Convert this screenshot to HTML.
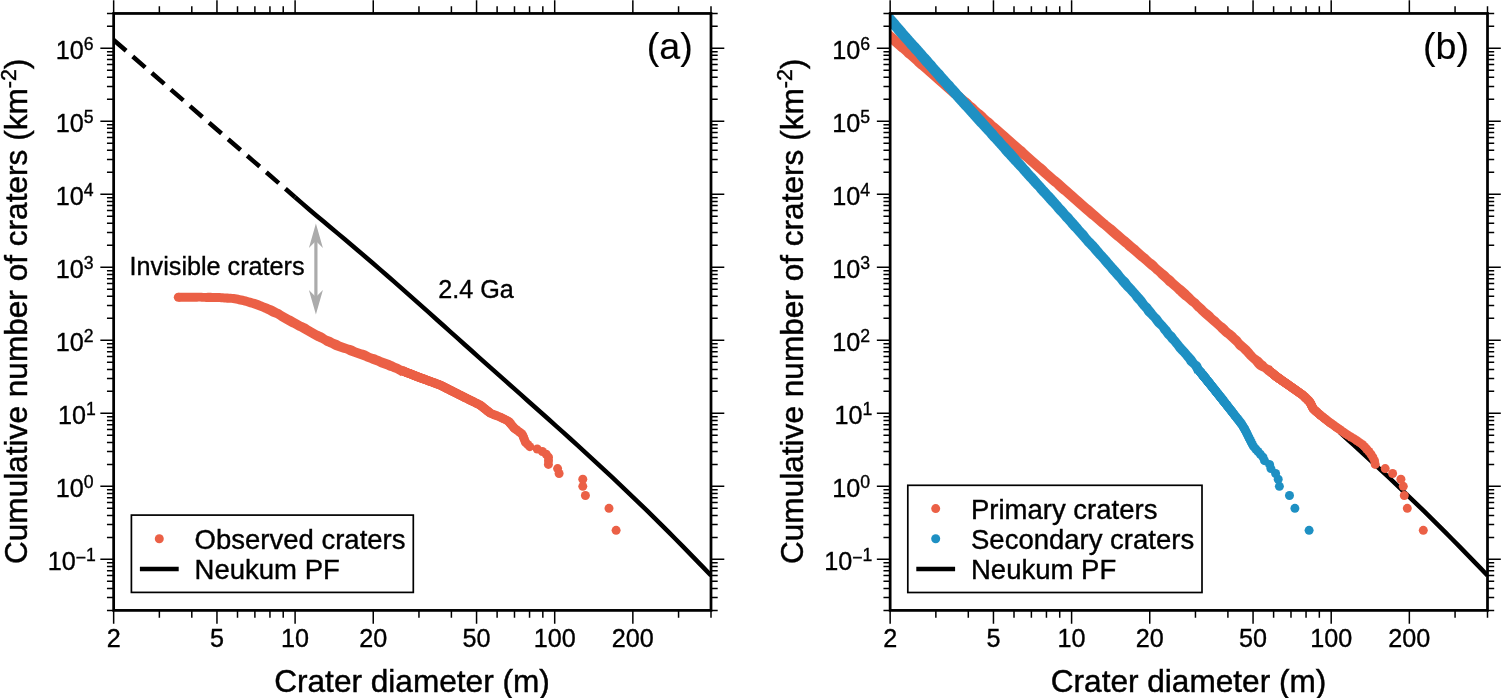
<!DOCTYPE html>
<html lang="en"><head><meta charset="utf-8"><title>Crater size-frequency distributions</title>
<style>html,body{margin:0;padding:0;background:#fff}body{width:1501px;height:698px;overflow:hidden}svg{display:block}</style></head>
<body>
<svg width="1501" height="698" viewBox="0 0 1501 698" font-family="Liberation Sans, Arial, Helvetica, sans-serif" fill="#000">
<rect width="1501" height="698" fill="#fff"/>
<defs><clipPath id="ca"><rect x="113.65" y="13.45" width="597.35" height="596.95"/></clipPath><clipPath id="cb"><rect x="890.15" y="13.45" width="597.35" height="596.95"/></clipPath></defs>
<g clip-path="url(#ca)">
<path d="M113.65 40 L295.1 197.24" stroke="#000" stroke-width="4.5" fill="none" stroke-dasharray="16.5 8.75"/>
<path d="M295.1 197.24 L302.15 203.42 L309.2 209.47 L316.25 215.43 L323.3 221.34 L330.35 227.23 L337.4 233.12 L344.45 239.03 L351.5 244.96 L358.55 250.93 L365.59 256.94 L372.64 262.99 L379.69 269.09 L386.74 275.22 L393.79 281.39 L400.84 287.6 L407.89 293.83 L414.94 300.09 L421.99 306.37 L429.04 312.67 L436.09 318.97 L443.13 325.28 L450.18 331.59 L457.23 337.9 L464.28 344.21 L471.33 350.51 L478.38 356.81 L485.43 363.09 L492.48 369.37 L499.53 375.65 L506.58 381.92 L513.63 388.18 L520.67 394.44 L527.72 400.71 L534.77 406.98 L541.82 413.26 L548.87 419.55 L555.92 425.86 L562.97 432.19 L570.02 438.54 L577.07 444.92 L584.12 451.34 L591.17 457.8 L598.21 464.3 L605.26 470.84 L612.31 477.43 L619.36 484.07 L626.41 490.77 L633.46 497.52 L640.51 504.33 L647.56 511.2 L654.61 518.13 L661.66 525.12 L668.71 532.16 L675.75 539.26 L682.8 546.41 L689.85 553.61 L696.9 560.87 L703.95 568.16 L711 575.5" stroke="#000" stroke-width="4.5" fill="none" stroke-linejoin="round"/>
<path d="M178.29 301.62 L179.19 301.7 L180.4 301.76 L181.92 301.74 L183.43 301.68 L184.95 301.68 L186.46 301.72 L187.97 301.72 L189.49 301.72 L191 301.77 L192.51 301.85 L194.03 301.84 L195.54 301.77 L197.05 301.67 L198.55 301.61 L200.05 301.6 L201.55 301.66 L203.04 301.78 L204.55 301.87 L206.06 301.89 L207.57 301.9 L209.09 301.91 L210.6 301.92 L212.12 301.92 L213.63 301.93 L215.14 301.99 L216.65 302.03 L218.14 302.04 L219.64 302.08 L221.13 302.2 L222.62 302.36 L224.12 302.5 L225.61 302.59 L227.06 302.64 L228.46 302.69 L229.87 302.74 L231.28 302.82 L232.7 302.95 L234.16 303.16 L235.62 303.45 L237.03 303.81 L238.41 304.15 L239.79 304.47 L241.17 304.76 L242.57 305.09 L244.01 305.44 L245.46 305.81 L246.87 306.24 L248.25 306.7 L249.63 307.16 L251.02 307.6 L252.42 308.06 L253.83 308.59 L255.22 309.11 L256.58 309.6 L257.92 310.08 L259.26 310.56 L260.6 311.06 L261.93 311.61 L263.3 312.22 L264.66 312.85 L265.99 313.48 L267.31 314.1 L268.6 314.76 L269.88 315.44 L271.17 316.14 L272.53 316.75 L273.96 317.28 L275.34 317.87 L276.64 318.59 L277.9 319.37 L279.17 320.13 L280.44 320.88 L281.73 321.64 L283.02 322.41 L284.33 323.18 L285.67 323.92 L287.01 324.69 L288.32 325.51 L289.63 326.33 L291.01 327 L292.42 327.6 L293.77 328.3 L295.04 329.1 L296.34 329.84 L297.7 330.47 L299.07 331.08 L300.38 331.79 L301.67 332.57 L302.99 333.31 L304.34 333.99 L305.68 334.7 L306.99 335.46 L308.3 336.22 L309.61 336.98 L310.91 337.77 L312.22 338.52 L313.56 339.23 L314.91 339.93 L316.26 340.65 L317.62 341.36 L319.02 341.99 L320.44 342.6 L321.8 343.29 L323.09 344.08 L324.39 344.9 L325.77 345.63 L327.23 346.28 L328.7 346.89 L330.15 347.58 L331.53 348.37 L332.9 349.11 L334.31 349.68 L335.78 350.15 L337.26 350.63 L338.72 351.18 L340.18 351.75 L341.64 352.26 L343.13 352.67 L344.6 353.06 L346.01 353.61 L347.37 354.3 L348.74 354.97 L350.15 355.51 L351.58 356.02 L353.01 356.51 L354.43 357.04 L355.83 357.57 L357.22 358.07 L358.62 358.56 L360.02 359.03 L361.43 359.5 L362.83 360.03 L364.22 360.6 L365.61 361.21 L367.02 361.77 L368.45 362.29 L369.85 362.87 L371.23 363.49 L372.64 364.06 L374.06 364.57 L375.5 365.04 L376.91 365.61 L378.26 366.32 L379.64 366.96 L381.07 367.47 L382.52 367.91 L383.95 368.42 L385.32 369.03 L386.69 369.62 L388.06 370.16 L389.46 370.64 L390.86 371.12 L392.25 371.66 L393.66 372.18 L395.1 372.71 L396.49 373.38 L397.83 374.21 L399.15 375.06 L400.24 375.7 L401.11 376.05 L404.73 366.79 L403.89 366.51 L402.8 366.07 L401.48 365.38 L400.2 364.65 L398.86 364 L397.46 363.47 L396.05 362.91 L394.65 362.26 L393.26 361.56 L391.86 360.89 L390.43 360.3 L388.99 359.75 L387.56 359.22 L386.13 358.72 L384.71 358.21 L383.29 357.68 L381.87 357.16 L380.46 356.62 L379.08 356.01 L377.7 355.38 L376.3 354.81 L374.86 354.35 L373.39 353.96 L371.93 353.53 L370.53 352.96 L369.2 352.24 L367.86 351.5 L366.48 350.87 L365.04 350.34 L363.57 349.87 L362.1 349.38 L360.63 348.89 L359.15 348.45 L357.68 348.01 L356.27 347.47 L354.92 346.76 L353.57 346.01 L352.17 345.44 L350.69 345.08 L349.2 344.77 L347.75 344.32 L346.36 343.73 L344.98 343.17 L343.59 342.7 L342.18 342.28 L340.81 341.75 L339.5 341.04 L338.18 340.34 L336.79 339.77 L335.4 339.26 L334.09 338.66 L332.83 337.99 L331.55 337.37 L330.22 336.84 L328.83 336.34 L327.44 335.76 L326.14 334.99 L324.91 334.1 L323.68 333.24 L322.38 332.51 L321.02 331.88 L319.63 331.31 L318.24 330.71 L316.89 330.03 L315.55 329.32 L314.24 328.58 L312.94 327.8 L311.65 327.01 L310.36 326.22 L309.07 325.42 L307.79 324.61 L306.47 323.87 L305.11 323.18 L303.72 322.52 L302.33 321.88 L300.96 321.18 L299.63 320.42 L298.32 319.66 L296.96 318.98 L295.6 318.34 L294.32 317.59 L293.07 316.78 L291.78 316.04 L290.44 315.39 L289.08 314.76 L287.73 314.08 L286.4 313.36 L285.07 312.6 L283.75 311.79 L282.45 310.93 L281.14 310.08 L279.79 309.33 L278.41 308.68 L277.04 308.02 L275.7 307.27 L274.33 306.51 L272.9 305.85 L271.43 305.28 L269.96 304.7 L268.53 304.09 L267.12 303.51 L265.69 302.95 L264.22 302.38 L262.74 301.78 L261.26 301.17 L259.78 300.58 L258.29 300.04 L256.83 299.56 L255.37 299.11 L253.88 298.68 L252.36 298.27 L250.85 297.84 L249.34 297.42 L247.84 297.01 L246.37 296.6 L244.88 296.19 L243.35 295.78 L241.78 295.44 L240.2 295.13 L238.62 294.84 L237.06 294.56 L235.55 294.29 L234.01 294.06 L232.42 293.91 L230.8 293.8 L229.19 293.68 L227.58 293.56 L226.01 293.5 L224.48 293.46 L222.96 293.37 L221.43 293.25 L219.9 293.11 L218.37 293.02 L216.84 292.96 L215.32 292.92 L213.81 292.9 L212.29 292.89 L210.78 292.86 L209.27 292.82 L207.76 292.82 L206.24 292.88 L204.73 292.93 L203.21 292.91 L201.68 292.85 L200.15 292.78 L198.63 292.68 L197.1 292.64 L195.58 292.67 L194.07 292.71 L192.55 292.71 L191.04 292.7 L189.53 292.7 L188.01 292.75 L186.5 292.79 L184.99 292.79 L183.47 292.73 L181.96 292.65 L180.45 292.65 L179.24 292.69 L178.33 292.73Z" fill="#EB6046"/>
<circle cx="178.31" cy="297.2" r="4.5" fill="#EB6046"/><circle cx="403.04" cy="371.11" r="4.9" fill="#EB6046"/>
<g fill="#EB6046">
<circle cx="616.1" cy="530.31" r="4.5"/>
<circle cx="609" cy="508.33" r="4.5"/>
<circle cx="585.4" cy="495.48" r="4.5"/>
<circle cx="582.8" cy="486.36" r="4.5"/>
<circle cx="582.8" cy="479.28" r="4.5"/>
<circle cx="559.1" cy="473.5" r="4.5"/>
<circle cx="557.6" cy="468.61" r="4.5"/>
<circle cx="548.4" cy="464.38" r="4.5"/>
<circle cx="548.5" cy="460.64" r="4.5"/>
<circle cx="548.5" cy="457.3" r="4.5"/>
<circle cx="546.23" cy="454.28" r="4.5"/>
<circle cx="542.38" cy="451.52" r="4.5"/>
<circle cx="537.23" cy="448.98" r="4.5"/>
<circle cx="529.82" cy="446.63" r="4.5"/>
<circle cx="527.59" cy="444.44" r="4.5"/>
<circle cx="525.5" cy="442.4" r="4.5"/>
<circle cx="524.72" cy="440.48" r="4.5"/>
<circle cx="524.04" cy="438.66" r="4.5"/>
<circle cx="523.39" cy="436.95" r="4.5"/>
<circle cx="522.78" cy="435.32" r="4.5"/>
<circle cx="521.7" cy="433.78" r="4.5"/>
<circle cx="519.73" cy="432.3" r="4.5"/>
<circle cx="517.85" cy="430.89" r="4.5"/>
<circle cx="516.06" cy="429.54" r="4.5"/>
<circle cx="514.36" cy="428.25" r="4.5"/>
<circle cx="513.3" cy="427" r="4.5"/>
<circle cx="512.29" cy="425.81" r="4.5"/>
<circle cx="511.32" cy="424.65" r="4.5"/>
<circle cx="510.38" cy="423.54" r="4.5"/>
<circle cx="509.47" cy="422.47" r="4.5"/>
<circle cx="508.59" cy="421.43" r="4.5"/>
<circle cx="506.84" cy="420.42" r="4.5"/>
<circle cx="504.89" cy="419.44" r="4.5"/>
<circle cx="502.99" cy="418.5" r="4.5"/>
<circle cx="501.16" cy="417.58" r="4.5"/>
<circle cx="499.1" cy="416.68" r="4.5"/>
<circle cx="496.9" cy="415.82" r="4.5"/>
<circle cx="494.77" cy="414.97" r="4.5"/>
<circle cx="492.69" cy="414.15" r="4.5"/>
<circle cx="490.66" cy="413.34" r="4.5"/>
<circle cx="489.5" cy="412.56" r="4.5"/>
<circle cx="488.55" cy="411.8" r="4.5"/>
<circle cx="487.61" cy="411.05" r="4.5"/>
<circle cx="486.7" cy="410.32" r="4.5"/>
<circle cx="485.81" cy="409.61" r="4.5"/>
<circle cx="484.94" cy="408.91" r="4.5"/>
<circle cx="484.09" cy="408.23" r="4.5"/>
<circle cx="483.25" cy="407.56" r="4.5"/>
<circle cx="482.44" cy="406.91" r="4.5"/>
<circle cx="481.64" cy="406.27" r="4.5"/>
<circle cx="480.85" cy="405.64" r="4.5"/>
<circle cx="479.95" cy="405.02" r="4.5"/>
<circle cx="478.73" cy="404.42" r="4.5"/>
<circle cx="477.54" cy="403.83" r="4.5"/>
<circle cx="476.37" cy="403.25" r="4.5"/>
<circle cx="475.22" cy="402.67" r="4.5"/>
<circle cx="474.1" cy="402.11" r="4.5"/>
<circle cx="472.99" cy="401.56" r="4.5"/>
<circle cx="471.9" cy="401.02" r="4.5"/>
<circle cx="470.83" cy="400.49" r="4.5"/>
<circle cx="469.77" cy="399.96" r="4.5"/>
<circle cx="468.74" cy="399.45" r="4.5"/>
<circle cx="467.72" cy="398.94" r="4.5"/>
<circle cx="466.71" cy="398.44" r="4.5"/>
<circle cx="465.73" cy="397.95" r="4.5"/>
<circle cx="464.75" cy="397.46" r="4.5"/>
<circle cx="463.79" cy="396.99" r="4.5"/>
<circle cx="462.85" cy="396.52" r="4.5"/>
<circle cx="461.92" cy="396.06" r="4.5"/>
<circle cx="461" cy="395.6" r="4.5"/>
<circle cx="460.1" cy="395.15" r="4.5"/>
<circle cx="459.22" cy="394.71" r="4.5"/>
<circle cx="458.36" cy="394.27" r="4.5"/>
<circle cx="457.5" cy="393.84" r="4.5"/>
<circle cx="456.66" cy="393.41" r="4.5"/>
<circle cx="455.83" cy="392.99" r="4.5"/>
<circle cx="455.01" cy="392.58" r="4.5"/>
<circle cx="454.2" cy="392.17" r="4.5"/>
<circle cx="453.4" cy="391.76" r="4.5"/>
<circle cx="452.61" cy="391.37" r="4.5"/>
<circle cx="451.83" cy="390.97" r="4.5"/>
<circle cx="451.06" cy="390.58" r="4.5"/>
<circle cx="450.29" cy="390.2" r="4.5"/>
<circle cx="449.54" cy="389.82" r="4.5"/>
<circle cx="448.8" cy="389.44" r="4.5"/>
<circle cx="448.07" cy="389.07" r="4.5"/>
<circle cx="447.34" cy="388.71" r="4.5"/>
<circle cx="446.62" cy="388.34" r="4.5"/>
<circle cx="445.91" cy="387.98" r="4.5"/>
<circle cx="445.21" cy="387.63" r="4.5"/>
<circle cx="444.52" cy="387.28" r="4.5"/>
<circle cx="443.83" cy="386.93" r="4.5"/>
<circle cx="443.15" cy="386.59" r="4.5"/>
<circle cx="442.48" cy="386.25" r="4.5"/>
<circle cx="441.82" cy="385.92" r="4.5"/>
<circle cx="441.16" cy="385.58" r="4.5"/>
<circle cx="440.51" cy="385.26" r="4.5"/>
<circle cx="439.74" cy="384.93" r="4.5"/>
<circle cx="438.87" cy="384.61" r="4.5"/>
<circle cx="438" cy="384.29" r="4.5"/>
<circle cx="437.15" cy="383.97" r="4.5"/>
<circle cx="436.3" cy="383.66" r="4.5"/>
<circle cx="435.46" cy="383.35" r="4.5"/>
<circle cx="434.63" cy="383.05" r="4.5"/>
<circle cx="433.81" cy="382.74" r="4.5"/>
<circle cx="433" cy="382.44" r="4.5"/>
<circle cx="432.19" cy="382.14" r="4.5"/>
<circle cx="431.39" cy="381.85" r="4.5"/>
<circle cx="430.6" cy="381.56" r="4.5"/>
<circle cx="429.81" cy="381.27" r="4.5"/>
<circle cx="429.04" cy="380.98" r="4.5"/>
<circle cx="428.27" cy="380.7" r="4.5"/>
<circle cx="427.5" cy="380.41" r="4.5"/>
<circle cx="426.74" cy="380.13" r="4.5"/>
<circle cx="425.99" cy="379.86" r="4.5"/>
<circle cx="425.25" cy="379.58" r="4.5"/>
<circle cx="424.51" cy="379.31" r="4.5"/>
<circle cx="423.78" cy="379.04" r="4.5"/>
<circle cx="423.06" cy="378.77" r="4.5"/>
<circle cx="422.34" cy="378.51" r="4.5"/>
<circle cx="421.62" cy="378.25" r="4.5"/>
<circle cx="420.92" cy="377.98" r="4.5"/>
<circle cx="420.21" cy="377.73" r="4.5"/>
<circle cx="419.54" cy="377.47" r="4.5"/>
<circle cx="418.88" cy="377.21" r="4.5"/>
<circle cx="418.23" cy="376.96" r="4.5"/>
<circle cx="417.58" cy="376.71" r="4.5"/>
<circle cx="416.93" cy="376.46" r="4.5"/>
<circle cx="416.29" cy="376.22" r="4.5"/>
<circle cx="415.66" cy="375.97" r="4.5"/>
<circle cx="415.03" cy="375.73" r="4.5"/>
<circle cx="414.4" cy="375.49" r="4.5"/>
<circle cx="413.78" cy="375.25" r="4.5"/>
<circle cx="413.17" cy="375.01" r="4.5"/>
<circle cx="412.55" cy="374.77" r="4.5"/>
<circle cx="411.95" cy="374.54" r="4.5"/>
<circle cx="411.35" cy="374.31" r="4.5"/>
<circle cx="410.75" cy="374.08" r="4.5"/>
<circle cx="410.15" cy="373.85" r="4.5"/>
<circle cx="409.56" cy="373.62" r="4.5"/>
<circle cx="408.98" cy="373.39" r="4.5"/>
<circle cx="408.4" cy="373.17" r="4.5"/>
<circle cx="407.82" cy="372.95" r="4.5"/>
<circle cx="407.25" cy="372.73" r="4.5"/>
<circle cx="406.68" cy="372.51" r="4.5"/>
<circle cx="406.11" cy="372.29" r="4.5"/>
<circle cx="405.55" cy="372.07" r="4.5"/>
<circle cx="404.99" cy="371.86" r="4.5"/>
<circle cx="404.44" cy="371.64" r="4.5"/>
</g>
</g>
<g clip-path="url(#cb)">
<path d="M1339.47 432.19 L1346.52 438.54 L1353.57 444.92 L1360.62 451.34 L1367.67 457.8 L1374.71 464.3 L1381.76 470.84 L1388.81 477.43 L1395.86 484.07 L1402.91 490.77 L1409.96 497.52 L1417.01 504.33 L1424.06 511.2 L1431.11 518.13 L1438.16 525.12 L1445.21 532.16 L1452.25 539.26 L1459.3 546.41 L1466.35 553.61 L1473.4 560.87 L1480.45 568.16 L1487.5 575.5" stroke="#000" stroke-width="4.5" fill="none" stroke-linejoin="round"/>
<path d="M849.12 1.24 L849.24 2.54 L849.59 4.23 L850.15 6.14 L851.07 8.16 L852.33 9.98 L853.63 11.38 L854.84 12.57 L856.07 13.74 L857.28 14.81 L858.43 15.8 L859.57 16.78 L860.72 17.76 L861.86 18.75 L862.99 19.75 L864.11 20.75 L865.23 21.76 L866.36 22.76 L867.49 23.75 L868.65 24.72 L869.81 25.68 L870.97 26.65 L872.1 27.64 L873.22 28.65 L874.33 29.67 L875.45 30.68 L876.6 31.66 L877.76 32.62 L878.92 33.58 L880.05 34.58 L881.19 35.57 L882.35 36.53 L883.53 37.47 L884.67 38.45 L885.78 39.47 L886.87 40.5 L887.97 41.53 L889.08 42.53 L890.23 43.5 L891.39 44.46 L892.54 45.43 L893.68 46.42 L894.82 47.4 L895.96 48.39 L897.08 49.4 L898.18 50.42 L899.33 51.4 L900.51 52.34 L901.68 53.3 L902.81 54.29 L903.88 55.35 L904.96 56.41 L906.09 57.41 L907.27 58.35 L908.45 59.29 L909.58 60.28 L910.69 61.31 L911.81 62.32 L912.94 63.32 L914.04 64.35 L915.13 65.39 L916.25 66.39 L917.39 67.38 L918.52 68.38 L919.65 69.37 L920.81 70.34 L921.99 71.28 L923.15 72.24 L924.29 73.23 L925.4 74.25 L926.51 75.27 L927.65 76.26 L928.8 77.23 L929.94 78.21 L931.06 79.22 L932.18 80.23 L933.32 81.23 L934.44 82.23 L935.55 83.24 L936.66 84.27 L937.81 85.25 L938.98 86.2 L940.13 87.18 L941.23 88.2 L942.33 89.23 L943.45 90.24 L944.58 91.24 L945.72 92.23 L946.86 93.21 L948.01 94.18 L949.15 95.17 L950.28 96.17 L951.43 97.14 L952.61 98.08 L953.78 99.03 L954.88 100.07 L955.94 101.15 L957.04 102.17 L958.19 103.15 L959.32 104.14 L960.43 105.17 L961.58 106.15 L962.78 107.07 L963.97 107.99 L965.12 108.96 L966.24 109.97 L967.38 110.96 L968.53 111.94 L969.64 112.95 L970.73 113.99 L971.84 115.02 L972.98 116 L974.11 117 L975.2 118.04 L976.26 119.12 L977.33 120.19 L978.45 121.2 L979.6 122.17 L980.74 123.15 L981.86 124.17 L982.97 125.18 L984.12 126.16 L985.32 127.08 L986.53 127.99 L987.69 128.95 L988.8 129.97 L989.92 130.98 L991.08 131.95 L992.23 132.91 L993.34 133.94 L994.43 134.98 L995.56 135.98 L996.71 136.96 L997.84 137.95 L998.93 139 L1000.01 140.04 L1001.15 141.03 L1002.34 141.96 L1003.53 142.89 L1004.68 143.87 L1005.78 144.9 L1006.88 145.92 L1008.01 146.93 L1009.15 147.91 L1010.29 148.89 L1011.43 149.88 L1012.56 150.88 L1013.7 151.87 L1014.85 152.84 L1015.99 153.83 L1017.1 154.84 L1018.19 155.88 L1019.29 156.92 L1020.42 157.92 L1021.57 158.9 L1022.75 159.84 L1023.93 160.78 L1025.07 161.76 L1026.18 162.79 L1027.27 163.82 L1028.4 164.82 L1029.55 165.8 L1030.7 166.77 L1031.85 167.74 L1032.98 168.74 L1034.09 169.76 L1035.22 170.76 L1036.37 171.73 L1037.53 172.7 L1038.64 173.72 L1039.7 174.79 L1040.79 175.84 L1041.92 176.83 L1043.1 177.78 L1044.25 178.75 L1045.38 179.75 L1046.5 180.76 L1047.62 181.77 L1048.73 182.79 L1049.87 183.78 L1051.04 184.72 L1052.24 185.64 L1053.42 186.59 L1054.54 187.59 L1055.63 188.64 L1056.7 189.7 L1057.81 190.72 L1058.94 191.72 L1060.07 192.72 L1061.23 193.69 L1062.42 194.61 L1063.6 195.55 L1064.72 196.55 L1065.82 197.59 L1066.95 198.58 L1068.09 199.55 L1069.2 200.57 L1070.32 201.58 L1071.46 202.56 L1072.63 203.51 L1073.77 204.5 L1074.88 205.54 L1075.97 206.58 L1077.09 207.61 L1078.24 208.6 L1079.41 209.55 L1080.56 210.54 L1081.68 211.57 L1082.8 212.59 L1083.96 213.56 L1085.15 214.49 L1086.32 215.45 L1087.44 216.47 L1088.56 217.48 L1089.73 218.44 L1090.92 219.37 L1092.09 220.32 L1093.26 221.28 L1094.43 222.24 L1095.59 223.21 L1096.71 224.22 L1097.82 225.24 L1098.97 226.21 L1100.14 227.17 L1101.32 228.1 L1102.5 229.04 L1103.67 230 L1104.8 231 L1105.9 232.03 L1107.01 233.05 L1108.12 234.07 L1109.24 235.08 L1110.36 236.09 L1111.5 237.08 L1112.66 238.04 L1113.83 238.99 L1115 239.93 L1116.18 240.86 L1117.35 241.81 L1118.5 242.78 L1119.64 243.78 L1120.78 244.75 L1121.96 245.69 L1123.13 246.64 L1124.27 247.62 L1125.36 248.66 L1126.46 249.69 L1127.6 250.67 L1128.77 251.62 L1129.92 252.59 L1131.08 253.55 L1132.26 254.48 L1133.44 255.42 L1134.57 256.41 L1135.68 257.42 L1136.81 258.41 L1137.96 259.39 L1139.08 260.39 L1140.22 261.37 L1141.4 262.31 L1142.59 263.22 L1143.74 264.2 L1144.83 265.23 L1145.92 266.27 L1147.03 267.28 L1148.18 268.26 L1149.35 269.2 L1150.55 270.12 L1151.7 271.09 L1152.8 272.12 L1153.91 273.13 L1155.08 274.08 L1156.22 275.06 L1157.29 276.12 L1158.34 277.21 L1159.41 278.26 L1160.54 279.26 L1161.68 280.24 L1162.83 281.22 L1163.92 282.25 L1164.94 283.37 L1165.99 284.46 L1167.14 285.43 L1168.36 286.32 L1169.5 287.3 L1170.61 288.32 L1171.8 289.24 L1173.02 290.14 L1174.12 291.17 L1175.12 292.31 L1176.18 293.38 L1177.31 294.37 L1178.42 295.39 L1179.52 296.42 L1180.64 297.43 L1181.75 298.45 L1182.89 299.43 L1184.1 300.34 L1185.34 301.21 L1186.5 302.17 L1187.6 303.2 L1188.68 304.25 L1189.83 305.22 L1191.08 306.09 L1192.27 307.02 L1193.29 308.13 L1194.23 309.34 L1195.29 310.41 L1196.46 311.36 L1197.58 312.37 L1198.66 313.42 L1199.75 314.47 L1200.84 315.51 L1201.91 316.57 L1203.02 317.59 L1204.18 318.55 L1205.36 319.49 L1206.56 320.41 L1207.72 321.38 L1208.82 322.43 L1209.9 323.5 L1211.05 324.5 L1212.26 325.44 L1213.42 326.42 L1214.56 327.41 L1215.69 328.41 L1216.78 329.46 L1217.81 330.56 L1218.86 331.65 L1220 332.64 L1221.1 333.67 L1222.12 334.8 L1223.2 335.84 L1224.43 336.73 L1225.68 337.56 L1226.81 338.48 L1227.88 339.47 L1228.98 340.42 L1230.07 341.38 L1231.12 342.42 L1232.19 343.47 L1233.28 344.51 L1234.34 345.59 L1235.29 346.77 L1236.18 348.01 L1237.23 349.09 L1238.47 349.99 L1239.73 350.85 L1240.86 351.85 L1241.94 352.9 L1243.02 353.95 L1244.06 355.05 L1245.04 356.19 L1246.01 357.36 L1247.08 358.41 L1248.18 359.44 L1249.25 360.5 L1250.33 361.55 L1251.46 362.55 L1252.59 363.55 L1253.58 364.72 L1254.54 366.03 L1255.66 367.29 L1256.91 368.43 L1258.25 369.44 L1259.68 370.31 L1261.14 370.98 L1262.53 371.61 L1263.76 372.41 L1264.88 373.39 L1265.75 374.19 L1266.42 374.77 L1272.31 366.8 L1271.7 366.06 L1270.56 365.54 L1269.02 365.03 L1267.67 364.27 L1266.62 363.14 L1265.68 361.98 L1264.62 361.16 L1263.53 360.39 L1262.59 359.45 L1261.7 358.45 L1260.7 357.47 L1259.44 356.63 L1258.15 355.79 L1256.91 354.9 L1255.75 353.93 L1254.73 352.81 L1253.75 351.65 L1252.76 350.51 L1251.76 349.37 L1250.77 348.23 L1249.75 347.11 L1248.66 346.08 L1247.54 345.06 L1246.41 344.06 L1245.27 343.07 L1244.14 342.07 L1243 341.08 L1241.96 339.99 L1241.06 338.76 L1240.14 337.54 L1239.05 336.5 L1237.84 335.57 L1236.72 334.52 L1235.68 333.35 L1234.55 332.27 L1233.34 331.28 L1232.11 330.31 L1230.88 329.4 L1229.71 328.45 L1228.62 327.41 L1227.6 326.28 L1226.56 325.18 L1225.44 324.18 L1224.23 323.26 L1222.97 322.42 L1221.77 321.5 L1220.65 320.49 L1219.57 319.44 L1218.52 318.37 L1217.45 317.34 L1216.27 316.42 L1215.05 315.55 L1213.96 314.52 L1213 313.34 L1211.94 312.26 L1210.78 311.29 L1209.59 310.36 L1208.41 309.43 L1207.25 308.46 L1206.14 307.43 L1205.08 306.35 L1204.01 305.3 L1202.88 304.29 L1201.73 303.32 L1200.64 302.28 L1199.6 301.17 L1198.54 300.1 L1197.41 299.1 L1196.24 298.14 L1195.09 297.17 L1193.96 296.17 L1192.88 295.12 L1191.85 294 L1190.81 292.91 L1189.71 291.88 L1188.58 290.87 L1187.46 289.87 L1186.32 288.87 L1185.2 287.86 L1184.08 286.85 L1182.94 285.87 L1181.76 284.92 L1180.58 283.97 L1179.46 282.96 L1178.32 281.97 L1177.15 281.02 L1176.01 280.03 L1174.94 278.96 L1173.89 277.86 L1172.79 276.83 L1171.63 275.86 L1170.47 274.9 L1169.34 273.9 L1168.25 272.86 L1167.14 271.82 L1165.98 270.86 L1164.81 269.91 L1163.67 268.91 L1162.53 267.93 L1161.33 267 L1160.12 266.09 L1158.99 265.09 L1157.97 263.96 L1156.98 262.81 L1155.93 261.71 L1154.79 260.72 L1153.55 259.85 L1152.3 258.99 L1151.12 258.03 L1150.04 256.97 L1148.99 255.88 L1147.89 254.85 L1146.72 253.89 L1145.51 252.97 L1144.32 252.03 L1143.19 251.04 L1142.08 250.01 L1140.98 248.97 L1139.89 247.92 L1138.79 246.88 L1137.68 245.86 L1136.52 244.9 L1135.29 244.01 L1134.07 243.11 L1132.93 242.12 L1131.83 241.09 L1130.7 240.08 L1129.55 239.1 L1128.43 238.09 L1127.3 237.1 L1126.12 236.15 L1124.94 235.2 L1123.81 234.21 L1122.7 233.18 L1121.6 232.14 L1120.44 231.18 L1119.22 230.29 L1118.03 229.36 L1116.91 228.35 L1115.85 227.27 L1114.74 226.24 L1113.57 225.29 L1112.35 224.4 L1111.11 223.54 L1109.91 222.62 L1108.77 221.64 L1107.65 220.62 L1106.51 219.64 L1105.35 218.68 L1104.19 217.71 L1103.05 216.74 L1101.92 215.75 L1100.8 214.73 L1099.7 213.7 L1098.58 212.7 L1097.42 211.75 L1096.25 210.8 L1095.12 209.81 L1094 208.8 L1092.89 207.79 L1091.76 206.8 L1090.61 205.84 L1089.45 204.88 L1088.31 203.91 L1087.18 202.92 L1086.03 201.95 L1084.88 200.99 L1083.78 199.98 L1082.7 198.93 L1081.59 197.93 L1080.42 196.98 L1079.25 196.04 L1078.1 195.06 L1077.01 194.01 L1075.93 192.95 L1074.81 191.94 L1073.63 190.99 L1072.48 190.02 L1071.38 188.97 L1070.29 187.93 L1069.13 186.97 L1067.93 186.05 L1066.77 185.08 L1065.67 184.05 L1064.58 183.01 L1063.49 181.97 L1062.4 180.92 L1061.3 179.89 L1060.13 178.94 L1058.92 178.03 L1057.73 177.1 L1056.57 176.15 L1055.44 175.15 L1054.32 174.14 L1053.19 173.14 L1052.05 172.16 L1050.89 171.2 L1049.71 170.25 L1048.57 169.27 L1047.51 168.2 L1046.45 167.11 L1045.36 166.07 L1044.23 165.08 L1043.07 164.11 L1041.9 163.16 L1040.73 162.2 L1039.6 161.2 L1038.49 160.2 L1037.32 159.23 L1036.14 158.3 L1034.98 157.34 L1033.86 156.33 L1032.76 155.3 L1031.63 154.29 L1030.51 153.29 L1029.39 152.28 L1028.29 151.25 L1027.2 150.2 L1026.12 149.15 L1025.02 148.11 L1023.9 147.11 L1022.75 146.13 L1021.61 145.15 L1020.47 144.17 L1019.33 143.17 L1018.18 142.2 L1017 141.26 L1015.84 140.3 L1014.74 139.27 L1013.66 138.21 L1012.54 137.21 L1011.38 136.24 L1010.23 135.26 L1009.13 134.24 L1008.03 133.2 L1006.9 132.21 L1005.73 131.25 L1004.58 130.28 L1003.44 129.29 L1002.31 128.29 L1001.17 127.31 L1000.04 126.31 L998.92 125.3 L997.77 124.33 L996.6 123.37 L995.45 122.4 L994.34 121.38 L993.24 120.35 L992.12 119.35 L990.97 118.37 L989.79 117.43 L988.62 116.48 L987.5 115.47 L986.44 114.39 L985.39 113.3 L984.29 112.27 L983.14 111.29 L981.97 110.34 L980.8 109.39 L979.64 108.43 L978.5 107.44 L977.41 106.4 L976.32 105.35 L975.22 104.33 L974.07 103.35 L972.91 102.38 L971.79 101.38 L970.7 100.34 L969.59 99.32 L968.44 98.34 L967.26 97.39 L966.1 96.44 L964.95 95.46 L963.81 94.47 L962.68 93.47 L961.55 92.48 L960.41 91.49 L959.27 90.5 L958.13 89.52 L957 88.53 L955.86 87.53 L954.73 86.54 L953.62 85.52 L952.49 84.52 L951.33 83.56 L950.18 82.59 L949.05 81.59 L947.93 80.58 L946.81 79.57 L945.7 78.55 L944.6 77.52 L943.48 76.51 L942.31 75.56 L941.14 74.61 L940.02 73.59 L938.91 72.57 L937.77 71.6 L936.6 70.64 L935.48 69.63 L934.39 68.59 L933.29 67.55 L932.18 66.54 L931.06 65.53 L929.92 64.54 L928.78 63.56 L927.61 62.6 L926.44 61.65 L925.29 60.68 L924.15 59.7 L923 58.72 L921.84 57.76 L920.7 56.76 L919.6 55.74 L918.5 54.7 L917.39 53.69 L916.25 52.7 L915.11 51.71 L914 50.69 L912.9 49.66 L911.78 48.65 L910.65 47.66 L909.5 46.68 L908.35 45.71 L907.2 44.73 L906.08 43.72 L904.97 42.7 L903.85 41.69 L902.72 40.7 L901.58 39.71 L900.44 38.72 L899.29 37.74 L898.15 36.75 L897.02 35.75 L895.87 34.76 L894.71 33.8 L893.55 32.82 L892.43 31.81 L891.31 30.79 L890.18 29.8 L889.03 28.81 L887.89 27.83 L886.75 26.84 L885.6 25.87 L884.44 24.91 L883.3 23.93 L882.16 22.94 L881.02 21.95 L879.88 20.97 L878.76 19.96 L877.65 18.94 L876.53 17.93 L875.4 16.93 L874.26 15.94 L873.13 14.95 L871.97 13.99 L870.8 13.03 L869.66 12.04 L868.55 11.02 L867.44 10.01 L866.29 9.03 L865.11 8.09 L863.95 7.15 L862.88 6.24 L861.94 5.32 L861.04 4.37 L860.32 3.55 L859.94 2.96 L859.67 2.37 L859.38 1.56 L859.22 1.03 L859.18 0.57Z" fill="#EB6046"/>
<circle cx="854.15" cy="0.9" r="5.1" fill="#EB6046"/><circle cx="1269.3" cy="370.88" r="4.73" fill="#EB6046"/>
<g fill="#EB6046">
<circle cx="1423.3" cy="530.31" r="4.5"/>
<circle cx="1407.3" cy="508.33" r="4.5"/>
<circle cx="1404.3" cy="495.48" r="4.5"/>
<circle cx="1403.3" cy="486.36" r="4.5"/>
<circle cx="1400.9" cy="479.28" r="4.5"/>
<circle cx="1392.6" cy="473.5" r="4.5"/>
<circle cx="1385.2" cy="468.61" r="4.5"/>
<circle cx="1375.2" cy="464.38" r="4.5"/>
<circle cx="1374.55" cy="460.64" r="4.5"/>
<circle cx="1372.84" cy="457.3" r="4.5"/>
<circle cx="1370.96" cy="454.28" r="4.5"/>
<circle cx="1368.88" cy="451.52" r="4.5"/>
<circle cx="1366.63" cy="448.98" r="4.5"/>
<circle cx="1364.56" cy="446.63" r="4.5"/>
<circle cx="1362.26" cy="444.44" r="4.5"/>
<circle cx="1359.33" cy="442.4" r="4.5"/>
<circle cx="1356.57" cy="440.48" r="4.5"/>
<circle cx="1353.86" cy="438.66" r="4.5"/>
<circle cx="1350.97" cy="436.95" r="4.5"/>
<circle cx="1348.23" cy="435.32" r="4.5"/>
<circle cx="1345.68" cy="433.78" r="4.5"/>
<circle cx="1343.6" cy="432.3" r="4.5"/>
<circle cx="1341.62" cy="430.89" r="4.5"/>
<circle cx="1339.71" cy="429.54" r="4.5"/>
<circle cx="1337.89" cy="428.25" r="4.5"/>
<circle cx="1336.11" cy="427" r="4.5"/>
<circle cx="1334.4" cy="425.81" r="4.5"/>
<circle cx="1332.75" cy="424.65" r="4.5"/>
<circle cx="1331.15" cy="423.54" r="4.5"/>
<circle cx="1329.61" cy="422.47" r="4.5"/>
<circle cx="1328.21" cy="421.43" r="4.5"/>
<circle cx="1326.95" cy="420.42" r="4.5"/>
<circle cx="1325.74" cy="419.44" r="4.5"/>
<circle cx="1324.56" cy="418.5" r="4.5"/>
<circle cx="1323.41" cy="417.58" r="4.5"/>
<circle cx="1322.3" cy="416.68" r="4.5"/>
<circle cx="1321.22" cy="415.82" r="4.5"/>
<circle cx="1320.17" cy="414.97" r="4.5"/>
<circle cx="1319.22" cy="414.15" r="4.5"/>
<circle cx="1318.3" cy="413.34" r="4.5"/>
<circle cx="1317.39" cy="412.56" r="4.5"/>
<circle cx="1316.52" cy="411.8" r="4.5"/>
<circle cx="1315.66" cy="411.05" r="4.5"/>
<circle cx="1314.82" cy="410.32" r="4.5"/>
<circle cx="1314" cy="409.61" r="4.5"/>
<circle cx="1313.26" cy="408.91" r="4.5"/>
<circle cx="1312.92" cy="408.23" r="4.5"/>
<circle cx="1312.59" cy="407.56" r="4.5"/>
<circle cx="1312.27" cy="406.91" r="4.5"/>
<circle cx="1311.95" cy="406.27" r="4.5"/>
<circle cx="1311.64" cy="405.64" r="4.5"/>
<circle cx="1311.34" cy="405.02" r="4.5"/>
<circle cx="1311.04" cy="404.42" r="4.5"/>
<circle cx="1310.75" cy="403.83" r="4.5"/>
<circle cx="1310.46" cy="403.25" r="4.5"/>
<circle cx="1310.18" cy="402.67" r="4.5"/>
<circle cx="1309.91" cy="402.11" r="4.5"/>
<circle cx="1309.35" cy="401.56" r="4.5"/>
<circle cx="1308.8" cy="401.02" r="4.5"/>
<circle cx="1308.26" cy="400.49" r="4.5"/>
<circle cx="1307.73" cy="399.96" r="4.5"/>
<circle cx="1307.21" cy="399.45" r="4.5"/>
<circle cx="1306.69" cy="398.94" r="4.5"/>
<circle cx="1306.19" cy="398.44" r="4.5"/>
<circle cx="1305.69" cy="397.95" r="4.5"/>
<circle cx="1305.2" cy="397.46" r="4.5"/>
<circle cx="1304.71" cy="396.99" r="4.5"/>
<circle cx="1304.24" cy="396.52" r="4.5"/>
<circle cx="1303.77" cy="396.06" r="4.5"/>
<circle cx="1303.3" cy="395.6" r="4.5"/>
<circle cx="1302.79" cy="395.15" r="4.5"/>
<circle cx="1302.16" cy="394.71" r="4.5"/>
<circle cx="1301.55" cy="394.27" r="4.5"/>
<circle cx="1300.94" cy="393.84" r="4.5"/>
<circle cx="1300.34" cy="393.41" r="4.5"/>
<circle cx="1299.75" cy="392.99" r="4.5"/>
<circle cx="1299.16" cy="392.58" r="4.5"/>
<circle cx="1298.58" cy="392.17" r="4.5"/>
<circle cx="1298.01" cy="391.76" r="4.5"/>
<circle cx="1297.45" cy="391.37" r="4.5"/>
<circle cx="1296.9" cy="390.97" r="4.5"/>
<circle cx="1296.35" cy="390.58" r="4.5"/>
<circle cx="1295.81" cy="390.2" r="4.5"/>
<circle cx="1295.27" cy="389.82" r="4.5"/>
<circle cx="1294.74" cy="389.44" r="4.5"/>
<circle cx="1294.22" cy="389.07" r="4.5"/>
<circle cx="1293.69" cy="388.71" r="4.5"/>
<circle cx="1293.17" cy="388.34" r="4.5"/>
<circle cx="1292.66" cy="387.98" r="4.5"/>
<circle cx="1292.15" cy="387.63" r="4.5"/>
<circle cx="1291.65" cy="387.28" r="4.5"/>
<circle cx="1291.15" cy="386.93" r="4.5"/>
<circle cx="1290.66" cy="386.59" r="4.5"/>
<circle cx="1290.17" cy="386.25" r="4.5"/>
<circle cx="1289.69" cy="385.92" r="4.5"/>
<circle cx="1289.22" cy="385.58" r="4.5"/>
<circle cx="1288.75" cy="385.26" r="4.5"/>
<circle cx="1288.28" cy="384.93" r="4.5"/>
<circle cx="1287.82" cy="384.61" r="4.5"/>
<circle cx="1287.36" cy="384.29" r="4.5"/>
<circle cx="1286.91" cy="383.97" r="4.5"/>
<circle cx="1286.46" cy="383.66" r="4.5"/>
<circle cx="1286.02" cy="383.35" r="4.5"/>
<circle cx="1285.58" cy="383.05" r="4.5"/>
<circle cx="1285.14" cy="382.74" r="4.5"/>
<circle cx="1284.71" cy="382.44" r="4.5"/>
<circle cx="1284.29" cy="382.14" r="4.5"/>
<circle cx="1283.86" cy="381.85" r="4.5"/>
<circle cx="1283.44" cy="381.56" r="4.5"/>
<circle cx="1283.03" cy="381.27" r="4.5"/>
<circle cx="1282.62" cy="380.98" r="4.5"/>
<circle cx="1282.21" cy="380.7" r="4.5"/>
<circle cx="1281.81" cy="380.41" r="4.5"/>
<circle cx="1281.41" cy="380.13" r="4.5"/>
<circle cx="1281.01" cy="379.86" r="4.5"/>
<circle cx="1280.62" cy="379.58" r="4.5"/>
<circle cx="1280.23" cy="379.31" r="4.5"/>
<circle cx="1279.84" cy="379.04" r="4.5"/>
<circle cx="1279.46" cy="378.77" r="4.5"/>
<circle cx="1279.08" cy="378.51" r="4.5"/>
<circle cx="1278.7" cy="378.25" r="4.5"/>
<circle cx="1278.32" cy="377.98" r="4.5"/>
<circle cx="1277.95" cy="377.73" r="4.5"/>
<circle cx="1277.58" cy="377.47" r="4.5"/>
<circle cx="1277.22" cy="377.21" r="4.5"/>
<circle cx="1276.9" cy="376.96" r="4.5"/>
<circle cx="1276.59" cy="376.71" r="4.5"/>
<circle cx="1276.28" cy="376.46" r="4.5"/>
<circle cx="1275.97" cy="376.22" r="4.5"/>
<circle cx="1275.67" cy="375.97" r="4.5"/>
<circle cx="1275.36" cy="375.73" r="4.5"/>
<circle cx="1275.06" cy="375.49" r="4.5"/>
<circle cx="1274.77" cy="375.25" r="4.5"/>
<circle cx="1274.47" cy="375.01" r="4.5"/>
<circle cx="1274.18" cy="374.77" r="4.5"/>
<circle cx="1273.88" cy="374.54" r="4.5"/>
<circle cx="1273.59" cy="374.31" r="4.5"/>
<circle cx="1273.31" cy="374.08" r="4.5"/>
<circle cx="1273.02" cy="373.85" r="4.5"/>
<circle cx="1272.74" cy="373.62" r="4.5"/>
<circle cx="1272.46" cy="373.39" r="4.5"/>
<circle cx="1272.18" cy="373.17" r="4.5"/>
<circle cx="1271.9" cy="372.95" r="4.5"/>
<circle cx="1271.63" cy="372.73" r="4.5"/>
<circle cx="1271.35" cy="372.51" r="4.5"/>
<circle cx="1271.08" cy="372.29" r="4.5"/>
<circle cx="1270.81" cy="372.07" r="4.5"/>
<circle cx="1270.54" cy="371.86" r="4.5"/>
<circle cx="1270.28" cy="371.64" r="4.5"/>
</g>
<path d="M869.64 4.22 L870.21 4.92 L870.98 5.85 L871.97 6.98 L872.99 8.1 L874.04 9.19 L875.05 10.3 L876.02 11.46 L876.98 12.63 L877.94 13.79 L878.93 14.93 L879.92 16.06 L880.93 17.19 L881.94 18.3 L882.95 19.42 L883.94 20.57 L884.87 21.76 L885.79 22.95 L886.75 24.11 L887.76 25.24 L888.78 26.35 L889.78 27.48 L890.8 28.59 L891.85 29.68 L892.88 30.78 L893.84 31.94 L894.75 33.15 L895.69 34.33 L896.69 35.46 L897.69 36.59 L898.68 37.72 L899.68 38.86 L900.7 39.97 L901.72 41.08 L902.73 42.19 L903.76 43.31 L904.75 44.44 L905.72 45.59 L906.68 46.76 L907.68 47.88 L908.73 48.97 L909.74 50.09 L910.71 51.25 L911.67 52.41 L912.69 53.52 L913.75 54.6 L914.78 55.7 L915.77 56.83 L916.75 57.98 L917.7 59.15 L918.67 60.31 L919.65 61.46 L920.63 62.61 L921.6 63.76 L922.6 64.89 L923.63 65.99 L924.65 67.1 L925.68 68.2 L926.71 69.3 L927.73 70.42 L928.69 71.57 L929.66 72.73 L930.68 73.84 L931.72 74.93 L932.75 76.04 L933.74 77.18 L934.69 78.35 L935.63 79.52 L936.61 80.67 L937.62 81.79 L938.65 82.89 L939.68 83.99 L940.72 85.09 L941.75 86.19 L942.75 87.32 L943.7 88.49 L944.65 89.66 L945.67 90.77 L946.75 91.83 L947.8 92.91 L948.8 94.03 L949.79 95.17 L950.8 96.29 L951.82 97.4 L952.81 98.54 L953.78 99.69 L954.74 100.85 L955.73 102 L956.75 103.1 L957.8 104.19 L958.83 105.29 L959.81 106.43 L960.81 107.57 L961.84 108.66 L962.89 109.74 L963.91 110.85 L964.92 111.97 L965.92 113.1 L966.91 114.24 L967.9 115.37 L968.93 116.48 L969.95 117.58 L970.96 118.7 L971.95 119.84 L972.94 120.97 L973.94 122.1 L974.94 123.23 L975.94 124.35 L976.97 125.46 L978.01 126.55 L979.07 127.62 L980.1 128.72 L981.11 129.84 L982.14 130.94 L983.19 132.03 L984.22 133.13 L985.24 134.24 L986.25 135.35 L987.25 136.48 L988.22 137.63 L989.19 138.79 L990.2 139.91 L991.25 140.99 L992.3 142.07 L993.32 143.18 L994.31 144.32 L995.3 145.45 L996.32 146.56 L997.34 147.67 L998.37 148.77 L999.39 149.88 L1000.38 151.01 L1001.33 152.18 L1002.26 153.38 L1003.22 154.54 L1004.26 155.63 L1005.31 156.71 L1006.31 157.84 L1007.29 158.98 L1008.32 160.08 L1009.36 161.17 L1010.37 162.3 L1011.38 163.41 L1012.4 164.51 L1013.42 165.62 L1014.42 166.75 L1015.45 167.85 L1016.51 168.93 L1017.56 170 L1018.59 171.1 L1019.58 172.24 L1020.55 173.4 L1021.52 174.55 L1022.54 175.66 L1023.56 176.76 L1024.56 177.89 L1025.55 179.03 L1026.57 180.13 L1027.62 181.22 L1028.64 182.33 L1029.62 183.47 L1030.6 184.61 L1031.58 185.76 L1032.6 186.87 L1033.7 187.91 L1034.79 188.95 L1035.79 190.07 L1036.73 191.26 L1037.67 192.44 L1038.67 193.57 L1039.69 194.67 L1040.72 195.77 L1041.77 196.85 L1042.82 197.94 L1043.83 199.05 L1044.82 200.18 L1045.79 201.34 L1046.77 202.48 L1047.77 203.61 L1048.81 204.7 L1049.87 205.77 L1050.91 206.86 L1051.95 207.96 L1052.96 209.07 L1053.91 210.24 L1054.83 211.43 L1055.81 212.58 L1056.84 213.68 L1057.9 214.76 L1058.96 215.83 L1059.98 216.94 L1060.95 218.09 L1061.92 219.24 L1062.91 220.38 L1063.94 221.47 L1064.97 222.57 L1065.99 223.68 L1066.98 224.82 L1067.95 225.97 L1068.91 227.13 L1069.87 228.29 L1070.88 229.41 L1071.94 230.48 L1073.02 231.53 L1074.04 232.64 L1075.02 233.79 L1076 234.93 L1077 236.05 L1078 237.18 L1078.99 238.31 L1080 239.43 L1081 240.56 L1081.98 241.7 L1082.95 242.85 L1083.92 244 L1084.9 245.14 L1085.93 246.24 L1087 247.31 L1088.05 248.39 L1089.07 249.5 L1090.09 250.6 L1091.08 251.74 L1092.03 252.91 L1092.99 254.07 L1094 255.19 L1095.02 256.3 L1096.02 257.42 L1097.04 258.52 L1098.1 259.6 L1099.13 260.7 L1100.1 261.85 L1101.06 263.01 L1102.01 264.18 L1102.97 265.34 L1103.94 266.49 L1104.96 267.6 L1106.02 268.67 L1107.05 269.77 L1107.99 270.95 L1108.87 272.18 L1109.83 273.34 L1110.91 274.39 L1111.97 275.47 L1112.92 276.64 L1113.85 277.82 L1114.86 278.94 L1115.92 280.01 L1116.94 281.12 L1117.9 282.28 L1118.84 283.45 L1119.77 284.64 L1120.74 285.8 L1121.77 286.89 L1122.8 287.99 L1123.78 289.13 L1124.78 290.26 L1125.87 291.3 L1126.99 292.32 L1127.99 293.45 L1128.95 294.61 L1130 295.69 L1131.09 296.73 L1132.06 297.89 L1132.87 299.18 L1133.7 300.45 L1134.65 301.62 L1135.74 302.67 L1136.82 303.72 L1137.77 304.88 L1138.64 306.13 L1139.51 307.36 L1140.47 308.52 L1141.52 309.6 L1142.57 310.69 L1143.5 311.87 L1144.33 313.14 L1145.2 314.38 L1146.19 315.51 L1147.27 316.56 L1148.35 317.62 L1149.44 318.66 L1150.53 319.72 L1151.51 320.86 L1152.39 322.09 L1153.26 323.32 L1154.2 324.49 L1155.19 325.63 L1156.26 326.7 L1157.41 327.69 L1158.54 328.7 L1159.49 329.87 L1160.27 331.19 L1161.09 332.46 L1162.07 333.6 L1163.07 334.73 L1163.94 335.96 L1164.82 337.19 L1165.87 338.27 L1166.96 339.32 L1167.9 340.49 L1168.8 341.7 L1169.88 342.76 L1170.99 343.79 L1171.96 344.94 L1172.88 346.13 L1173.83 347.3 L1174.74 348.5 L1175.59 349.75 L1176.47 350.97 L1177.51 352.07 L1178.57 353.14 L1179.62 354.22 L1180.67 355.3 L1181.7 356.41 L1182.65 357.58 L1183.57 358.76 L1184.55 359.91 L1185.5 361.07 L1186.33 362.34 L1187.1 363.65 L1188.06 364.81 L1189.24 365.79 L1190.43 366.76 L1191.45 367.86 L1192.31 369.11 L1193.08 370.42 L1193.75 371.81 L1194.31 372.92 L1194.81 373.67 L1202.45 367.43 L1201.97 366.66 L1201.5 365.48 L1200.84 364.07 L1199.95 362.85 L1198.79 361.85 L1197.56 360.9 L1196.55 359.78 L1195.75 358.49 L1194.92 357.22 L1193.93 356.08 L1192.92 354.95 L1191.89 353.84 L1190.84 352.76 L1189.85 351.62 L1188.93 350.42 L1187.99 349.23 L1186.96 348.13 L1185.88 347.06 L1184.85 345.96 L1183.85 344.83 L1182.87 343.68 L1181.91 342.51 L1180.96 341.34 L1180.05 340.14 L1179.14 338.93 L1178.15 337.79 L1177.15 336.66 L1176.28 335.43 L1175.46 334.14 L1174.44 333.03 L1173.19 332.11 L1172.03 331.12 L1171.17 329.87 L1170.44 328.51 L1169.54 327.3 L1168.47 326.22 L1167.47 325.09 L1166.53 323.91 L1165.56 322.76 L1164.5 321.68 L1163.43 320.6 L1162.46 319.45 L1161.57 318.23 L1160.72 316.97 L1159.79 315.78 L1158.71 314.72 L1157.58 313.7 L1156.54 312.61 L1155.65 311.38 L1154.79 310.13 L1153.82 308.98 L1152.8 307.86 L1151.89 306.66 L1151.03 305.4 L1150.05 304.26 L1148.87 303.28 L1147.74 302.27 L1146.82 301.07 L1146.01 299.77 L1145.14 298.53 L1144.19 297.36 L1143.26 296.18 L1142.28 295.03 L1141.24 293.93 L1140.22 292.82 L1139.23 291.68 L1138.24 290.54 L1137.23 289.42 L1136.24 288.28 L1135.28 287.13 L1134.29 285.99 L1133.25 284.89 L1132.17 283.83 L1131.11 282.75 L1130.17 281.57 L1129.3 280.33 L1128.39 279.12 L1127.37 278.02 L1126.26 276.98 L1125.16 275.94 L1124.14 274.82 L1123.22 273.63 L1122.33 272.41 L1121.41 271.2 L1120.44 270.05 L1119.43 268.93 L1118.42 267.81 L1117.4 266.7 L1116.37 265.6 L1115.34 264.49 L1114.38 263.33 L1113.42 262.17 L1112.41 261.05 L1111.41 259.92 L1110.44 258.76 L1109.48 257.6 L1108.48 256.47 L1107.47 255.35 L1106.46 254.23 L1105.44 253.12 L1104.43 252 L1103.43 250.88 L1102.44 249.73 L1101.47 248.58 L1100.51 247.42 L1099.54 246.26 L1098.57 245.11 L1097.57 243.98 L1096.58 242.84 L1095.57 241.72 L1094.53 240.63 L1093.46 239.56 L1092.36 238.52 L1091.28 237.46 L1090.26 236.36 L1089.31 235.19 L1088.41 233.96 L1087.52 232.74 L1086.58 231.56 L1085.57 230.44 L1084.49 229.38 L1083.43 228.31 L1082.43 227.18 L1081.47 226.02 L1080.51 224.85 L1079.52 223.71 L1078.54 222.57 L1077.58 221.4 L1076.6 220.26 L1075.57 219.16 L1074.52 218.07 L1073.52 216.94 L1072.58 215.77 L1071.61 214.61 L1070.57 213.52 L1069.49 212.46 L1068.42 211.4 L1067.41 210.28 L1066.47 209.1 L1065.51 207.93 L1064.48 206.83 L1063.43 205.75 L1062.42 204.63 L1061.46 203.47 L1060.48 202.32 L1059.46 201.21 L1058.45 200.09 L1057.47 198.95 L1056.49 197.8 L1055.5 196.66 L1054.51 195.53 L1053.52 194.39 L1052.47 193.31 L1051.39 192.26 L1050.33 191.18 L1049.35 190.04 L1048.38 188.88 L1047.33 187.8 L1046.25 186.74 L1045.24 185.62 L1044.29 184.45 L1043.31 183.31 L1042.27 182.22 L1041.24 181.12 L1040.25 179.98 L1039.28 178.82 L1038.3 177.68 L1037.32 176.53 L1036.31 175.41 L1035.3 174.3 L1034.27 173.2 L1033.2 172.13 L1032.15 171.05 L1031.16 169.91 L1030.21 168.74 L1029.23 167.6 L1028.19 166.5 L1027.16 165.41 L1026.17 164.26 L1025.21 163.11 L1024.22 161.97 L1023.18 160.87 L1022.12 159.8 L1021.1 158.7 L1020.11 157.56 L1019.16 156.39 L1018.19 155.23 L1017.19 154.11 L1016.17 153 L1015.19 151.85 L1014.23 150.69 L1013.23 149.56 L1012.16 148.5 L1011.1 147.42 L1010.1 146.3 L1009.1 145.18 L1008.07 144.08 L1007 143.01 L1005.96 141.92 L1004.95 140.8 L1003.98 139.65 L1003.04 138.47 L1002.03 137.35 L1000.96 136.28 L999.88 135.23 L998.88 134.11 L997.94 132.92 L997.03 131.72 L996.06 130.56 L995.03 129.46 L993.98 128.38 L992.95 127.28 L991.95 126.15 L990.95 125.03 L989.94 123.91 L988.96 122.77 L987.97 121.63 L986.96 120.51 L985.93 119.41 L984.95 118.27 L983.98 117.12 L982.95 116.01 L981.91 114.93 L980.91 113.8 L979.95 112.64 L978.96 111.51 L977.92 110.41 L976.89 109.31 L975.88 108.2 L974.86 107.09 L973.84 105.98 L972.84 104.85 L971.87 103.7 L970.9 102.55 L969.93 101.4 L968.93 100.27 L967.91 99.16 L966.87 98.07 L965.84 96.97 L964.86 95.83 L963.88 94.68 L962.87 93.57 L961.83 92.48 L960.8 91.38 L959.81 90.24 L958.83 89.1 L957.83 87.97 L956.82 86.86 L955.79 85.76 L954.79 84.63 L953.82 83.48 L952.84 82.33 L951.81 81.23 L950.75 80.17 L949.71 79.07 L948.73 77.93 L947.77 76.77 L946.75 75.66 L945.72 74.57 L944.73 73.43 L943.77 72.26 L942.79 71.12 L941.76 70.02 L940.72 68.93 L939.71 67.82 L938.68 66.72 L937.65 65.62 L936.67 64.47 L935.74 63.29 L934.8 62.11 L933.8 60.98 L932.78 59.88 L931.77 58.76 L930.81 57.6 L929.84 56.45 L928.82 55.34 L927.78 54.25 L926.76 53.14 L925.78 52 L924.79 50.86 L923.79 49.74 L922.78 48.62 L921.79 47.49 L920.81 46.35 L919.82 45.22 L918.8 44.11 L917.78 43 L916.76 41.89 L915.75 40.77 L914.75 39.65 L913.74 38.53 L912.74 37.41 L911.76 36.27 L910.78 35.13 L909.78 34 L908.77 32.89 L907.74 31.78 L906.75 30.65 L905.8 29.48 L904.84 28.32 L903.88 27.16 L902.89 26.03 L901.87 24.92 L900.86 23.81 L899.9 22.65 L898.96 21.47 L897.99 20.32 L896.98 19.2 L895.98 18.08 L894.98 16.95 L893.98 15.83 L892.98 14.7 L891.99 13.57 L891 12.43 L890.02 11.29 L889.05 10.14 L888.1 8.97 L887.15 7.81 L886.17 6.66 L885.17 5.54 L884.16 4.43 L883.14 3.32 L882.12 2.21 L881.13 1.08 L880.17 -0.08 L879.21 -1.25 L878.44 -2.17 L877.85 -2.85Z" fill="#1E90C3"/>
<circle cx="873.74" cy="0.68" r="5.4" fill="#1E90C3"/><circle cx="1198.92" cy="370.31" r="4.81" fill="#1E90C3"/>
<g fill="#1E90C3">
<circle cx="1309.1" cy="530.31" r="4.5"/>
<circle cx="1294.9" cy="508.33" r="4.5"/>
<circle cx="1289.5" cy="495.48" r="4.5"/>
<circle cx="1279.4" cy="486.36" r="4.5"/>
<circle cx="1278.2" cy="479.28" r="4.5"/>
<circle cx="1275.6" cy="473.5" r="4.5"/>
<circle cx="1270.9" cy="468.61" r="4.5"/>
<circle cx="1269.6" cy="464.38" r="4.5"/>
<circle cx="1264.5" cy="460.64" r="4.5"/>
<circle cx="1263" cy="457.3" r="4.5"/>
<circle cx="1260.36" cy="454.28" r="4.5"/>
<circle cx="1257.94" cy="451.52" r="4.5"/>
<circle cx="1255.72" cy="448.98" r="4.5"/>
<circle cx="1253.67" cy="446.63" r="4.5"/>
<circle cx="1252.37" cy="444.44" r="4.5"/>
<circle cx="1251.35" cy="442.4" r="4.5"/>
<circle cx="1250.39" cy="440.48" r="4.5"/>
<circle cx="1249.48" cy="438.66" r="4.5"/>
<circle cx="1248.62" cy="436.95" r="4.5"/>
<circle cx="1247.81" cy="435.32" r="4.5"/>
<circle cx="1247.04" cy="433.78" r="4.5"/>
<circle cx="1246.3" cy="432.3" r="4.5"/>
<circle cx="1245.6" cy="430.89" r="4.5"/>
<circle cx="1244.88" cy="429.54" r="4.5"/>
<circle cx="1244.13" cy="428.25" r="4.5"/>
<circle cx="1243.41" cy="427" r="4.5"/>
<circle cx="1242.71" cy="425.81" r="4.5"/>
<circle cx="1241.98" cy="424.65" r="4.5"/>
<circle cx="1241.12" cy="423.54" r="4.5"/>
<circle cx="1240.3" cy="422.47" r="4.5"/>
<circle cx="1239.5" cy="421.43" r="4.5"/>
<circle cx="1238.72" cy="420.42" r="4.5"/>
<circle cx="1237.97" cy="419.44" r="4.5"/>
<circle cx="1237.24" cy="418.5" r="4.5"/>
<circle cx="1236.52" cy="417.58" r="4.5"/>
<circle cx="1235.83" cy="416.68" r="4.5"/>
<circle cx="1235.16" cy="415.82" r="4.5"/>
<circle cx="1234.51" cy="414.97" r="4.5"/>
<circle cx="1233.86" cy="414.15" r="4.5"/>
<circle cx="1233.24" cy="413.34" r="4.5"/>
<circle cx="1232.63" cy="412.56" r="4.5"/>
<circle cx="1232.03" cy="411.8" r="4.5"/>
<circle cx="1231.45" cy="411.05" r="4.5"/>
<circle cx="1230.88" cy="410.32" r="4.5"/>
<circle cx="1230.33" cy="409.61" r="4.5"/>
<circle cx="1229.78" cy="408.91" r="4.5"/>
<circle cx="1229.25" cy="408.23" r="4.5"/>
<circle cx="1228.72" cy="407.56" r="4.5"/>
<circle cx="1228.21" cy="406.91" r="4.5"/>
<circle cx="1227.71" cy="406.27" r="4.5"/>
<circle cx="1227.22" cy="405.64" r="4.5"/>
<circle cx="1226.74" cy="405.02" r="4.5"/>
<circle cx="1226.26" cy="404.42" r="4.5"/>
<circle cx="1225.79" cy="403.83" r="4.5"/>
<circle cx="1225.33" cy="403.25" r="4.5"/>
<circle cx="1224.88" cy="402.67" r="4.5"/>
<circle cx="1224.44" cy="402.11" r="4.5"/>
<circle cx="1224.01" cy="401.56" r="4.5"/>
<circle cx="1223.58" cy="401.02" r="4.5"/>
<circle cx="1223.16" cy="400.49" r="4.5"/>
<circle cx="1222.75" cy="399.96" r="4.5"/>
<circle cx="1222.34" cy="399.45" r="4.5"/>
<circle cx="1221.93" cy="398.94" r="4.5"/>
<circle cx="1221.54" cy="398.44" r="4.5"/>
<circle cx="1221.15" cy="397.95" r="4.5"/>
<circle cx="1220.76" cy="397.46" r="4.5"/>
<circle cx="1220.39" cy="396.99" r="4.5"/>
<circle cx="1220.01" cy="396.52" r="4.5"/>
<circle cx="1219.65" cy="396.06" r="4.5"/>
<circle cx="1219.29" cy="395.6" r="4.5"/>
<circle cx="1218.93" cy="395.15" r="4.5"/>
<circle cx="1218.58" cy="394.71" r="4.5"/>
<circle cx="1218.23" cy="394.27" r="4.5"/>
<circle cx="1217.88" cy="393.84" r="4.5"/>
<circle cx="1217.54" cy="393.41" r="4.5"/>
<circle cx="1217.21" cy="392.99" r="4.5"/>
<circle cx="1216.88" cy="392.58" r="4.5"/>
<circle cx="1216.55" cy="392.17" r="4.5"/>
<circle cx="1216.23" cy="391.76" r="4.5"/>
<circle cx="1215.91" cy="391.37" r="4.5"/>
<circle cx="1215.6" cy="390.97" r="4.5"/>
<circle cx="1215.29" cy="390.58" r="4.5"/>
<circle cx="1214.98" cy="390.2" r="4.5"/>
<circle cx="1214.68" cy="389.82" r="4.5"/>
<circle cx="1214.38" cy="389.44" r="4.5"/>
<circle cx="1214.08" cy="389.07" r="4.5"/>
<circle cx="1213.79" cy="388.71" r="4.5"/>
<circle cx="1213.5" cy="388.34" r="4.5"/>
<circle cx="1213.21" cy="387.98" r="4.5"/>
<circle cx="1212.93" cy="387.63" r="4.5"/>
<circle cx="1212.64" cy="387.28" r="4.5"/>
<circle cx="1212.37" cy="386.93" r="4.5"/>
<circle cx="1212.09" cy="386.59" r="4.5"/>
<circle cx="1211.82" cy="386.25" r="4.5"/>
<circle cx="1211.55" cy="385.92" r="4.5"/>
<circle cx="1211.28" cy="385.58" r="4.5"/>
<circle cx="1211.02" cy="385.26" r="4.5"/>
<circle cx="1210.76" cy="384.93" r="4.5"/>
<circle cx="1210.5" cy="384.61" r="4.5"/>
<circle cx="1210.24" cy="384.29" r="4.5"/>
<circle cx="1209.99" cy="383.97" r="4.5"/>
<circle cx="1209.74" cy="383.66" r="4.5"/>
<circle cx="1209.49" cy="383.35" r="4.5"/>
<circle cx="1209.24" cy="383.05" r="4.5"/>
<circle cx="1209" cy="382.74" r="4.5"/>
<circle cx="1208.76" cy="382.44" r="4.5"/>
<circle cx="1208.52" cy="382.14" r="4.5"/>
<circle cx="1208.28" cy="381.85" r="4.5"/>
<circle cx="1208.04" cy="381.56" r="4.5"/>
<circle cx="1207.81" cy="381.27" r="4.5"/>
<circle cx="1207.58" cy="380.98" r="4.5"/>
<circle cx="1207.35" cy="380.7" r="4.5"/>
<circle cx="1207.12" cy="380.41" r="4.5"/>
<circle cx="1206.9" cy="380.13" r="4.5"/>
<circle cx="1206.67" cy="379.86" r="4.5"/>
<circle cx="1206.45" cy="379.58" r="4.5"/>
<circle cx="1206.23" cy="379.31" r="4.5"/>
<circle cx="1206.01" cy="379.04" r="4.5"/>
<circle cx="1205.79" cy="378.77" r="4.5"/>
<circle cx="1205.58" cy="378.51" r="4.5"/>
<circle cx="1205.37" cy="378.25" r="4.5"/>
<circle cx="1205.16" cy="377.98" r="4.5"/>
<circle cx="1204.95" cy="377.73" r="4.5"/>
<circle cx="1204.74" cy="377.47" r="4.5"/>
<circle cx="1204.53" cy="377.21" r="4.5"/>
<circle cx="1204.33" cy="376.96" r="4.5"/>
<circle cx="1204.12" cy="376.71" r="4.5"/>
<circle cx="1203.92" cy="376.46" r="4.5"/>
<circle cx="1203.72" cy="376.22" r="4.5"/>
<circle cx="1203.52" cy="375.97" r="4.5"/>
<circle cx="1203.33" cy="375.73" r="4.5"/>
<circle cx="1203.13" cy="375.49" r="4.5"/>
<circle cx="1202.94" cy="375.25" r="4.5"/>
<circle cx="1202.75" cy="375.01" r="4.5"/>
<circle cx="1202.55" cy="374.77" r="4.5"/>
<circle cx="1202.36" cy="374.54" r="4.5"/>
<circle cx="1202.17" cy="374.31" r="4.5"/>
<circle cx="1201.99" cy="374.08" r="4.5"/>
<circle cx="1201.8" cy="373.85" r="4.5"/>
<circle cx="1201.61" cy="373.62" r="4.5"/>
<circle cx="1201.43" cy="373.39" r="4.5"/>
<circle cx="1201.25" cy="373.17" r="4.5"/>
<circle cx="1201.07" cy="372.95" r="4.5"/>
<circle cx="1200.89" cy="372.73" r="4.5"/>
<circle cx="1200.71" cy="372.51" r="4.5"/>
<circle cx="1200.53" cy="372.29" r="4.5"/>
<circle cx="1200.36" cy="372.07" r="4.5"/>
<circle cx="1200.18" cy="371.86" r="4.5"/>
<circle cx="1200.01" cy="371.64" r="4.5"/>
</g>
</g>
<path d="M113.65 610.4v13.3M113.65 13.45v-13.3M159.36 610.4v7.3M159.36 13.45v-7.3M191.8 610.4v7.3M191.8 13.45v-7.3M216.96 610.4v13.3M216.96 13.45v-13.3M237.51 610.4v7.3M237.51 13.45v-7.3M254.89 610.4v7.3M254.89 13.45v-7.3M269.95 610.4v7.3M269.95 13.45v-7.3M283.22 610.4v7.3M283.22 13.45v-7.3M295.1 610.4v13.3M295.1 13.45v-13.3M373.25 610.4v13.3M373.25 13.45v-13.3M418.96 610.4v7.3M418.96 13.45v-7.3M451.4 610.4v7.3M451.4 13.45v-7.3M476.56 610.4v13.3M476.56 13.45v-13.3M497.11 610.4v7.3M497.11 13.45v-7.3M514.49 610.4v7.3M514.49 13.45v-7.3M529.55 610.4v7.3M529.55 13.45v-7.3M542.83 610.4v7.3M542.83 13.45v-7.3M554.7 610.4v13.3M554.7 13.45v-13.3M632.85 610.4v13.3M632.85 13.45v-13.3M678.57 610.4v7.3M678.57 13.45v-7.3M711 610.4v7.3M711 13.45v-7.3M113.65 610.4h-6.7M711 610.4h6.7M113.65 597.54h-6.7M711 597.54h6.7M113.65 588.42h-6.7M711 588.42h6.7M113.65 581.35h-6.7M711 581.35h6.7M113.65 575.56h-6.7M711 575.56h6.7M113.65 570.68h-6.7M711 570.68h6.7M113.65 566.44h-6.7M711 566.44h6.7M113.65 562.71h-6.7M711 562.71h6.7M113.65 559.37h-13.3M711 559.37h13.3M113.65 537.39h-6.7M711 537.39h6.7M113.65 524.53h-6.7M711 524.53h6.7M113.65 515.41h-6.7M711 515.41h6.7M113.65 508.33h-6.7M711 508.33h6.7M113.65 502.55h-6.7M711 502.55h6.7M113.65 497.67h-6.7M711 497.67h6.7M113.65 493.43h-6.7M711 493.43h6.7M113.65 489.7h-6.7M711 489.7h6.7M113.65 486.36h-13.3M711 486.36h13.3M113.65 464.38h-6.7M711 464.38h6.7M113.65 451.52h-6.7M711 451.52h6.7M113.65 442.4h-6.7M711 442.4h6.7M113.65 435.32h-6.7M711 435.32h6.7M113.65 429.54h-6.7M711 429.54h6.7M113.65 424.65h-6.7M711 424.65h6.7M113.65 420.42h-6.7M711 420.42h6.7M113.65 416.68h-6.7M711 416.68h6.7M113.65 413.34h-13.3M711 413.34h13.3M113.65 391.37h-6.7M711 391.37h6.7M113.65 378.51h-6.7M711 378.51h6.7M113.65 369.39h-6.7M711 369.39h6.7M113.65 362.31h-6.7M711 362.31h6.7M113.65 356.53h-6.7M711 356.53h6.7M113.65 351.64h-6.7M711 351.64h6.7M113.65 347.41h-6.7M711 347.41h6.7M113.65 343.67h-6.7M711 343.67h6.7M113.65 340.33h-13.3M711 340.33h13.3M113.65 318.35h-6.7M711 318.35h6.7M113.65 305.5h-6.7M711 305.5h6.7M113.65 296.37h-6.7M711 296.37h6.7M113.65 289.3h-6.7M711 289.3h6.7M113.65 283.52h-6.7M711 283.52h6.7M113.65 278.63h-6.7M711 278.63h6.7M113.65 274.4h-6.7M711 274.4h6.7M113.65 270.66h-6.7M711 270.66h6.7M113.65 267.32h-13.3M711 267.32h13.3M113.65 245.34h-6.7M711 245.34h6.7M113.65 232.48h-6.7M711 232.48h6.7M113.65 223.36h-6.7M711 223.36h6.7M113.65 216.29h-6.7M711 216.29h6.7M113.65 210.51h-6.7M711 210.51h6.7M113.65 205.62h-6.7M711 205.62h6.7M113.65 201.38h-6.7M711 201.38h6.7M113.65 197.65h-6.7M711 197.65h6.7M113.65 194.31h-13.3M711 194.31h13.3M113.65 172.33h-6.7M711 172.33h6.7M113.65 159.47h-6.7M711 159.47h6.7M113.65 150.35h-6.7M711 150.35h6.7M113.65 143.28h-6.7M711 143.28h6.7M113.65 137.49h-6.7M711 137.49h6.7M113.65 132.61h-6.7M711 132.61h6.7M113.65 128.37h-6.7M711 128.37h6.7M113.65 124.64h-6.7M711 124.64h6.7M113.65 121.3h-13.3M711 121.3h13.3M113.65 99.32h-6.7M711 99.32h6.7M113.65 86.46h-6.7M711 86.46h6.7M113.65 77.34h-6.7M711 77.34h6.7M113.65 70.26h-6.7M711 70.26h6.7M113.65 64.48h-6.7M711 64.48h6.7M113.65 59.6h-6.7M711 59.6h6.7M113.65 55.36h-6.7M711 55.36h6.7M113.65 51.63h-6.7M711 51.63h6.7M113.65 48.29h-13.3M711 48.29h13.3M113.65 26.31h-6.7M711 26.31h6.7M113.65 13.45h-6.7M711 13.45h6.7" stroke="#000" stroke-width="1.5" fill="none"/>
<rect x="113.65" y="13.45" width="597.35" height="596.95" fill="none" stroke="#000" stroke-width="2.75"/>
<text transform="translate(113.65 647.2) scale(1 1.05)" font-size="25.2" stroke="#000" stroke-width="0.35" text-anchor="middle">2</text>
<text transform="translate(216.96 647.2) scale(1 1.05)" font-size="25.2" stroke="#000" stroke-width="0.35" text-anchor="middle">5</text>
<text transform="translate(295.1 647.2) scale(1 1.05)" font-size="25.2" stroke="#000" stroke-width="0.35" text-anchor="middle">10</text>
<text transform="translate(373.25 647.2) scale(1 1.05)" font-size="25.2" stroke="#000" stroke-width="0.35" text-anchor="middle">20</text>
<text transform="translate(476.56 647.2) scale(1 1.05)" font-size="25.2" stroke="#000" stroke-width="0.35" text-anchor="middle">50</text>
<text transform="translate(554.7 647.2) scale(1 1.05)" font-size="25.2" stroke="#000" stroke-width="0.35" text-anchor="middle">100</text>
<text transform="translate(632.85 647.2) scale(1 1.05)" font-size="25.2" stroke="#000" stroke-width="0.35" text-anchor="middle">200</text>
<text transform="translate(95.9 569.97) scale(1 1.05)" font-size="25.2" stroke="#000" stroke-width="0.35" text-anchor="end">10<tspan font-size="17.64" dy="-5.6">−</tspan><tspan font-size="17.64" dy="-2.8">1</tspan></text>
<text transform="translate(93.6 496.96) scale(1 1.05)" font-size="25.2" stroke="#000" stroke-width="0.35" text-anchor="end">10<tspan font-size="17.64" dy="-8.4">0</tspan></text>
<text transform="translate(95.9 423.94) scale(1 1.05)" font-size="25.2" stroke="#000" stroke-width="0.35" text-anchor="end">10<tspan font-size="17.64" dy="-8.4">1</tspan></text>
<text transform="translate(93.6 350.93) scale(1 1.05)" font-size="25.2" stroke="#000" stroke-width="0.35" text-anchor="end">10<tspan font-size="17.64" dy="-8.4">2</tspan></text>
<text transform="translate(93.6 277.92) scale(1 1.05)" font-size="25.2" stroke="#000" stroke-width="0.35" text-anchor="end">10<tspan font-size="17.64" dy="-8.4">3</tspan></text>
<text transform="translate(93.6 204.91) scale(1 1.05)" font-size="25.2" stroke="#000" stroke-width="0.35" text-anchor="end">10<tspan font-size="17.64" dy="-8.4">4</tspan></text>
<text transform="translate(93.6 131.9) scale(1 1.05)" font-size="25.2" stroke="#000" stroke-width="0.35" text-anchor="end">10<tspan font-size="17.64" dy="-8.4">5</tspan></text>
<text transform="translate(93.6 58.89) scale(1 1.05)" font-size="25.2" stroke="#000" stroke-width="0.35" text-anchor="end">10<tspan font-size="17.64" dy="-8.4">6</tspan></text>
<text transform="translate(412.02 691.8)" font-size="31.6" stroke="#000" stroke-width="0.44" text-anchor="middle">Crater diameter (m)</text>
<text transform="translate(26.7 311.32) rotate(-90)" font-size="31.6" stroke="#000" stroke-width="0.44" text-anchor="middle">Cumulative number of craters (km<tspan font-size="21.49" dy="-10.8">-2</tspan><tspan font-size="31.6" dy="10.8">)</tspan></text>
<path d="M890.15 610.4v13.3M890.15 13.45v-13.3M935.86 610.4v7.3M935.86 13.45v-7.3M968.3 610.4v7.3M968.3 13.45v-7.3M993.46 610.4v13.3M993.46 13.45v-13.3M1014.01 610.4v7.3M1014.01 13.45v-7.3M1031.39 610.4v7.3M1031.39 13.45v-7.3M1046.45 610.4v7.3M1046.45 13.45v-7.3M1059.72 610.4v7.3M1059.72 13.45v-7.3M1071.6 610.4v13.3M1071.6 13.45v-13.3M1149.75 610.4v13.3M1149.75 13.45v-13.3M1195.46 610.4v7.3M1195.46 13.45v-7.3M1227.9 610.4v7.3M1227.9 13.45v-7.3M1253.06 610.4v13.3M1253.06 13.45v-13.3M1273.61 610.4v7.3M1273.61 13.45v-7.3M1290.99 610.4v7.3M1290.99 13.45v-7.3M1306.05 610.4v7.3M1306.05 13.45v-7.3M1319.33 610.4v7.3M1319.33 13.45v-7.3M1331.2 610.4v13.3M1331.2 13.45v-13.3M1409.35 610.4v13.3M1409.35 13.45v-13.3M1455.07 610.4v7.3M1455.07 13.45v-7.3M1487.5 610.4v7.3M1487.5 13.45v-7.3M890.15 610.4h-6.7M1487.5 610.4h6.7M890.15 597.54h-6.7M1487.5 597.54h6.7M890.15 588.42h-6.7M1487.5 588.42h6.7M890.15 581.35h-6.7M1487.5 581.35h6.7M890.15 575.56h-6.7M1487.5 575.56h6.7M890.15 570.68h-6.7M1487.5 570.68h6.7M890.15 566.44h-6.7M1487.5 566.44h6.7M890.15 562.71h-6.7M1487.5 562.71h6.7M890.15 559.37h-13.3M1487.5 559.37h13.3M890.15 537.39h-6.7M1487.5 537.39h6.7M890.15 524.53h-6.7M1487.5 524.53h6.7M890.15 515.41h-6.7M1487.5 515.41h6.7M890.15 508.33h-6.7M1487.5 508.33h6.7M890.15 502.55h-6.7M1487.5 502.55h6.7M890.15 497.67h-6.7M1487.5 497.67h6.7M890.15 493.43h-6.7M1487.5 493.43h6.7M890.15 489.7h-6.7M1487.5 489.7h6.7M890.15 486.36h-13.3M1487.5 486.36h13.3M890.15 464.38h-6.7M1487.5 464.38h6.7M890.15 451.52h-6.7M1487.5 451.52h6.7M890.15 442.4h-6.7M1487.5 442.4h6.7M890.15 435.32h-6.7M1487.5 435.32h6.7M890.15 429.54h-6.7M1487.5 429.54h6.7M890.15 424.65h-6.7M1487.5 424.65h6.7M890.15 420.42h-6.7M1487.5 420.42h6.7M890.15 416.68h-6.7M1487.5 416.68h6.7M890.15 413.34h-13.3M1487.5 413.34h13.3M890.15 391.37h-6.7M1487.5 391.37h6.7M890.15 378.51h-6.7M1487.5 378.51h6.7M890.15 369.39h-6.7M1487.5 369.39h6.7M890.15 362.31h-6.7M1487.5 362.31h6.7M890.15 356.53h-6.7M1487.5 356.53h6.7M890.15 351.64h-6.7M1487.5 351.64h6.7M890.15 347.41h-6.7M1487.5 347.41h6.7M890.15 343.67h-6.7M1487.5 343.67h6.7M890.15 340.33h-13.3M1487.5 340.33h13.3M890.15 318.35h-6.7M1487.5 318.35h6.7M890.15 305.5h-6.7M1487.5 305.5h6.7M890.15 296.37h-6.7M1487.5 296.37h6.7M890.15 289.3h-6.7M1487.5 289.3h6.7M890.15 283.52h-6.7M1487.5 283.52h6.7M890.15 278.63h-6.7M1487.5 278.63h6.7M890.15 274.4h-6.7M1487.5 274.4h6.7M890.15 270.66h-6.7M1487.5 270.66h6.7M890.15 267.32h-13.3M1487.5 267.32h13.3M890.15 245.34h-6.7M1487.5 245.34h6.7M890.15 232.48h-6.7M1487.5 232.48h6.7M890.15 223.36h-6.7M1487.5 223.36h6.7M890.15 216.29h-6.7M1487.5 216.29h6.7M890.15 210.51h-6.7M1487.5 210.51h6.7M890.15 205.62h-6.7M1487.5 205.62h6.7M890.15 201.38h-6.7M1487.5 201.38h6.7M890.15 197.65h-6.7M1487.5 197.65h6.7M890.15 194.31h-13.3M1487.5 194.31h13.3M890.15 172.33h-6.7M1487.5 172.33h6.7M890.15 159.47h-6.7M1487.5 159.47h6.7M890.15 150.35h-6.7M1487.5 150.35h6.7M890.15 143.28h-6.7M1487.5 143.28h6.7M890.15 137.49h-6.7M1487.5 137.49h6.7M890.15 132.61h-6.7M1487.5 132.61h6.7M890.15 128.37h-6.7M1487.5 128.37h6.7M890.15 124.64h-6.7M1487.5 124.64h6.7M890.15 121.3h-13.3M1487.5 121.3h13.3M890.15 99.32h-6.7M1487.5 99.32h6.7M890.15 86.46h-6.7M1487.5 86.46h6.7M890.15 77.34h-6.7M1487.5 77.34h6.7M890.15 70.26h-6.7M1487.5 70.26h6.7M890.15 64.48h-6.7M1487.5 64.48h6.7M890.15 59.6h-6.7M1487.5 59.6h6.7M890.15 55.36h-6.7M1487.5 55.36h6.7M890.15 51.63h-6.7M1487.5 51.63h6.7M890.15 48.29h-13.3M1487.5 48.29h13.3M890.15 26.31h-6.7M1487.5 26.31h6.7M890.15 13.45h-6.7M1487.5 13.45h6.7" stroke="#000" stroke-width="1.5" fill="none"/>
<rect x="890.15" y="13.45" width="597.35" height="596.95" fill="none" stroke="#000" stroke-width="2.75"/>
<text transform="translate(890.15 647.2) scale(1 1.05)" font-size="25.2" stroke="#000" stroke-width="0.35" text-anchor="middle">2</text>
<text transform="translate(993.46 647.2) scale(1 1.05)" font-size="25.2" stroke="#000" stroke-width="0.35" text-anchor="middle">5</text>
<text transform="translate(1071.6 647.2) scale(1 1.05)" font-size="25.2" stroke="#000" stroke-width="0.35" text-anchor="middle">10</text>
<text transform="translate(1149.75 647.2) scale(1 1.05)" font-size="25.2" stroke="#000" stroke-width="0.35" text-anchor="middle">20</text>
<text transform="translate(1253.06 647.2) scale(1 1.05)" font-size="25.2" stroke="#000" stroke-width="0.35" text-anchor="middle">50</text>
<text transform="translate(1331.2 647.2) scale(1 1.05)" font-size="25.2" stroke="#000" stroke-width="0.35" text-anchor="middle">100</text>
<text transform="translate(1409.35 647.2) scale(1 1.05)" font-size="25.2" stroke="#000" stroke-width="0.35" text-anchor="middle">200</text>
<text transform="translate(872.4 569.97) scale(1 1.05)" font-size="25.2" stroke="#000" stroke-width="0.35" text-anchor="end">10<tspan font-size="17.64" dy="-5.6">−</tspan><tspan font-size="17.64" dy="-2.8">1</tspan></text>
<text transform="translate(870.1 496.96) scale(1 1.05)" font-size="25.2" stroke="#000" stroke-width="0.35" text-anchor="end">10<tspan font-size="17.64" dy="-8.4">0</tspan></text>
<text transform="translate(872.4 423.94) scale(1 1.05)" font-size="25.2" stroke="#000" stroke-width="0.35" text-anchor="end">10<tspan font-size="17.64" dy="-8.4">1</tspan></text>
<text transform="translate(870.1 350.93) scale(1 1.05)" font-size="25.2" stroke="#000" stroke-width="0.35" text-anchor="end">10<tspan font-size="17.64" dy="-8.4">2</tspan></text>
<text transform="translate(870.1 277.92) scale(1 1.05)" font-size="25.2" stroke="#000" stroke-width="0.35" text-anchor="end">10<tspan font-size="17.64" dy="-8.4">3</tspan></text>
<text transform="translate(870.1 204.91) scale(1 1.05)" font-size="25.2" stroke="#000" stroke-width="0.35" text-anchor="end">10<tspan font-size="17.64" dy="-8.4">4</tspan></text>
<text transform="translate(870.1 131.9) scale(1 1.05)" font-size="25.2" stroke="#000" stroke-width="0.35" text-anchor="end">10<tspan font-size="17.64" dy="-8.4">5</tspan></text>
<text transform="translate(870.1 58.89) scale(1 1.05)" font-size="25.2" stroke="#000" stroke-width="0.35" text-anchor="end">10<tspan font-size="17.64" dy="-8.4">6</tspan></text>
<text transform="translate(1188.53 691.8)" font-size="31.6" stroke="#000" stroke-width="0.44" text-anchor="middle">Crater diameter (m)</text>
<text transform="translate(803.2 311.32) rotate(-90)" font-size="31.6" stroke="#000" stroke-width="0.44" text-anchor="middle">Cumulative number of craters (km<tspan font-size="21.49" dy="-10.8">-2</tspan><tspan font-size="31.6" dy="10.8">)</tspan></text>
<text transform="translate(692.7 59.2)" font-size="37.6" stroke="#000" stroke-width="0.15" text-anchor="end">(a)</text>
<text transform="translate(1468.9 59.2)" font-size="37.6" stroke="#000" stroke-width="0.15" text-anchor="end">(b)</text>
<text transform="translate(129.6 275.1)" font-size="25.2" stroke="#000" stroke-width="0.35">Invisible craters</text>
<text transform="translate(438.2 298.2) scale(1 1.035)" font-size="25.2" stroke="#000" stroke-width="0.35">2.4 Ga</text>
<g fill="#ABABAB" stroke="none"><rect x="314.3" y="239.1" width="3.2" height="59.8"/><path d="M315.9 223.6L308.9 248L315.9 241.1L322.9 248Z"/><path d="M315.9 314.4L308.9 290L315.9 296.9L322.9 290Z"/></g>
<rect x="131.4" y="515.1" width="281.9" height="77.3" fill="#fff" stroke="#000" stroke-width="1.7"/>
<circle cx="159.3" cy="538.7" r="4.5" fill="#EB6046"/>
<text transform="translate(194.6 548.7)" font-size="27.5" stroke="#000" stroke-width="0.39">Observed craters</text>
<path d="M139.9 568.9h38.8" stroke="#000" stroke-width="4.5"/>
<text transform="translate(194.6 578.9)" font-size="27.5" stroke="#000" stroke-width="0.39">Neukum PF</text>
<rect x="907.8" y="485.3" width="294.2" height="107.2" fill="#fff" stroke="#000" stroke-width="1.7"/>
<circle cx="935.7" cy="508.6" r="4.5" fill="#EB6046"/>
<text transform="translate(971 518.6)" font-size="27.5" stroke="#000" stroke-width="0.39">Primary craters</text>
<circle cx="935.7" cy="538.8" r="4.5" fill="#1E90C3"/>
<text transform="translate(971 548.8)" font-size="27.5" stroke="#000" stroke-width="0.39">Secondary craters</text>
<path d="M916.3 569h38.8" stroke="#000" stroke-width="4.5"/>
<text transform="translate(971 579)" font-size="27.5" stroke="#000" stroke-width="0.39">Neukum PF</text>
</svg>
</body></html>
